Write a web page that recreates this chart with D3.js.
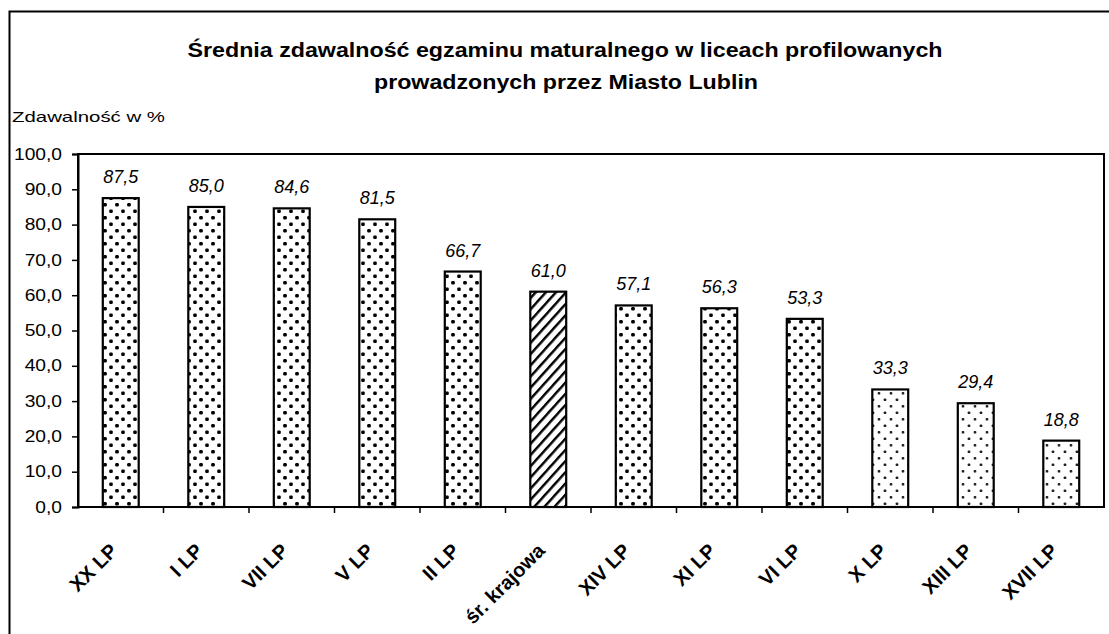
<!DOCTYPE html>
<html>
<head>
<meta charset="utf-8">
<script src="https://cdn.jsdelivr.net/npm/d3@7"></script>
<style>
  body { margin: 0; background: #fff; }
  svg { display: block; font-family: "Liberation Sans", Arial, sans-serif; }
</style>
</head>
<body>
<svg id="chart" width="1109" height="634"></svg>
<script>
// data
const schools = ["XX LP", "I LP", "VII LP", "V LP", "II LP", "śr. krajowa", "XIV LP", "XI LP", "VI LP", "X LP", "XIII LP", "XVII LP"];
const passRate = [87.5, 85.0, 84.6, 81.5, 66.7, 61.0, 57.1, 56.3, 53.3, 33.3, 29.4, 18.8];
const fillKind = ["dots", "dots", "dots", "dots", "dots", "hatch", "dots", "dots", "dots", "light", "light", "light"];
const yTicks = [0, 10, 20, 30, 40, 50, 60, 70, 80, 90, 100];

const svg = d3.select("#chart");
const fmt = v => d3.format(".1f")(v).replace(".", ",");

const plot = { left: 78, right: 1104, top: 154, bottom: 507 };

//Patterns
const defs = svg.append("defs");
const dotPattern = (id, size, color) => {
  const p = defs.append("pattern")
    .attr("id", id).attr("patternUnits", "userSpaceOnUse")
    .attr("width", 12).attr("height", 13);
  p.append("rect").attr("width", 12).attr("height", 13).attr("fill", "#fff");
  [[3, 3.25], [9, 9.75], [-3, 9.75], [15, 3.25]].forEach(c => {
    p.append("rect")
      .attr("x", c[0] - size / 2).attr("y", c[1] - size / 2)
      .attr("width", size).attr("height", size).attr("rx", size / 3)
      .attr("fill", color);
  });
};
dotPattern("dots", 3.6, "#000");
dotPattern("light", 2.6, "#222");

const hatch = defs.append("pattern")
  .attr("id", "hatch").attr("patternUnits", "userSpaceOnUse")
  .attr("width", 7.5).attr("height", 7.5)
  .attr("patternTransform", "rotate(42)");
hatch.append("rect").attr("width", 7.5).attr("height", 7.5).attr("fill", "#fff");
hatch.append("line").attr("x1", 1.2).attr("y1", 0).attr("x2", 1.2).attr("y2", 7.5)
  .attr("stroke", "#000").attr("stroke-width", 2.5);

// outer frame
svg.append("rect")
  .attr("x", 9.5).attr("y", 11.5).attr("width", 1120).attr("height", 640)
  .attr("fill", "none").attr("stroke", "#000").attr("stroke-width", 2);

// title
const title = svg.append("g")
  .attr("text-anchor", "middle").attr("font-weight", "bold").attr("font-size", 20);
title.append("text").attr("x", 565).attr("y", 57)
  .attr("textLength", 755).attr("lengthAdjust", "spacingAndGlyphs")
  .text("Średnia zdawalność egzaminu maturalnego w liceach profilowanych");
title.append("text").attr("x", 566).attr("y", 89)
  .attr("textLength", 384).attr("lengthAdjust", "spacingAndGlyphs")
  .text("prowadzonych przez Miasto Lublin");

svg.append("text")
  .attr("x", 12).attr("y", 122).attr("font-size", 15)
  .attr("textLength", 153).attr("lengthAdjust", "spacingAndGlyphs")
  .text("Zdawalność w %");

const x = d3.scaleBand().domain(schools)
  .range([plot.left, plot.right]).paddingInner(0.58).paddingOuter(0.29);
const step = (plot.right - plot.left) / schools.length;
const y = d3.scaleLinear().domain([0, 100]).range([plot.bottom, plot.top]);

// plot box
svg.append("rect")
  .attr("x", plot.left).attr("y", plot.top)
  .attr("width", plot.right - plot.left).attr("height", plot.bottom - plot.top)
  .attr("fill", "none").attr("stroke", "#000").attr("stroke-width", 2);

// y axis
const yAxis = svg.append("g")
  .attr("transform", `translate(${plot.left},0)`)
  .call(d3.axisLeft(y).tickValues(yTicks).tickFormat(fmt).tickSize(6).tickPadding(10));
yAxis.select(".domain").attr("stroke-width", 2);
yAxis.selectAll(".tick line").attr("stroke-width", 1.5);
yAxis.selectAll(".tick text")
  .attr("font-family", "Liberation Sans, Arial, sans-serif")
  .attr("font-size", 16).attr("fill", "#000")
  .attr("transform", "scale(1.2,1)")
  .attr("x", -16 / 1.2);

// x axis ticks between categories
const xTickPos = d3.range(1, schools.length).map(i => plot.left + i * step);
svg.append("g").selectAll("line")
  .data(xTickPos).enter().append("line")
  .attr("x1", d => d).attr("x2", d => d)
  .attr("y1", plot.bottom).attr("y2", plot.bottom + 6)
  .attr("stroke", "#000").attr("stroke-width", 1.5);

// bars
svg.append("g").selectAll("rect")
  .data(schools).enter().append("rect")
  .attr("x", d => x(d))
  .attr("y", (d, i) => y(passRate[i]))
  .attr("width", x.bandwidth())
  .attr("height", (d, i) => y(0) - y(passRate[i]))
  .attr("fill", (d, i) => `url(#${fillKind[i]})`)
  .attr("stroke", "#000").attr("stroke-width", 2.2);

// value labels
svg.append("g").selectAll("text")
  .data(schools).enter().append("text")
  .attr("x", d => x(d) + x.bandwidth() / 2)
  .attr("y", (d, i) => y(passRate[i]) - 15)
  .attr("text-anchor", "middle")
  .attr("font-style", "italic").attr("font-size", 18)
  .text((d, i) => fmt(passRate[i]));

// category labels
svg.append("g").selectAll("text")
  .data(schools).enter().append("text")
  .attr("transform", d => `translate(${x(d) + x.bandwidth() / 2 - 7},${plot.bottom + 40}) rotate(-45)`)
  .attr("text-anchor", "end")
  .attr("dy", "0.35em")
  .attr("font-size", 20)
  .attr("font-weight", "bold")
  .text(d => d);
</script>
</body>
</html>
